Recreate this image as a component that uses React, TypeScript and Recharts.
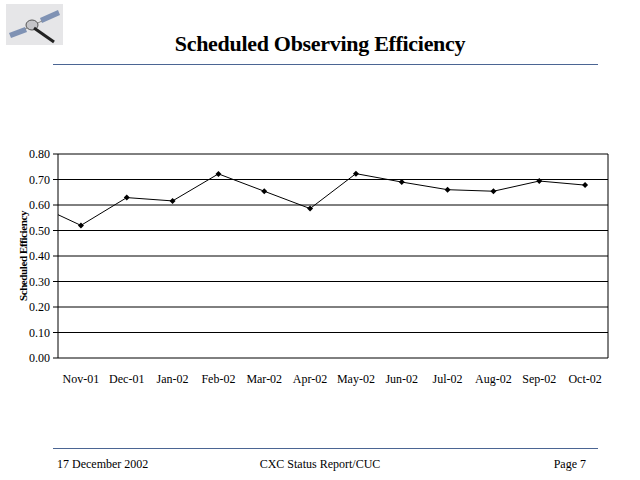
import React from 'react';
import { LineChart, Line, XAxis, YAxis, CartesianGrid, ReferenceLine } from 'recharts';

// month index 0 = Oct-01 (only its line segment is visible, clipped at the left edge)
const months = ['Oct-01', 'Nov-01', 'Dec-01', 'Jan-02', 'Feb-02', 'Mar-02', 'Apr-02', 'May-02', 'Jun-02', 'Jul-02', 'Aug-02', 'Sep-02', 'Oct-02'];
const efficiency = [0.604, 0.52, 0.629, 0.616, 0.722, 0.654, 0.586, 0.723, 0.69, 0.66, 0.654, 0.694, 0.678];
const yTicks = [0, 0.1, 0.2, 0.3, 0.4, 0.5, 0.6, 0.7, 0.8];
const labelTicks = [1, 2, 3, 4, 5, 6, 7, 8, 9, 10, 11, 12];
const boundaryTicks = [0.5, 1.5, 2.5, 3.5, 4.5, 5.5, 6.5, 7.5, 8.5, 9.5, 10.5, 11.5, 12.5];

const data = months.map((m, i) => ({ idx: i, month: m, value: efficiency[i] }));

const serif = '"Liberation Serif", "Times New Roman", serif';
const rule = '#4b6593';

const Diamond = (props: any) => {
  const { cx, cy, payload } = props;
  if (payload.idx < 0.5) return <g />;
  const r = 3;
  return <polygon points={`${cx},${cy - r} ${cx + r},${cy} ${cx},${cy + r} ${cx - r},${cy}`} fill="#000" />;
};

function Satellite() {
  return (
    <svg width={57} height={41} style={{ position: 'absolute', left: 6, top: 4 }}>
      <rect x={0} y={0} width={57} height={41} fill="#e6e6e8" />
      <polygon points="3,29 19,23 21,28 5,34" fill="#7f92b4" />
      <polygon points="34,14 52,6 54,11 36,19" fill="#7f92b4" />
      <line x1={19} y1={25} x2={36} y2={17} stroke="#888" strokeWidth={1} />
      <ellipse cx={26} cy={21} rx={6} ry={5} fill="#c4c4c8" stroke="#555" strokeWidth={1} />
      <line x1={28} y1={24} x2={48} y2={38} stroke="#222" strokeWidth={3} />
    </svg>
  );
}

export default function App() {
  return (
    <div style={{ position: 'absolute', left: 0, top: 0, width: 640, height: 480, background: '#fff', fontFamily: serif }}>
      <Satellite />
      <div style={{ position: 'absolute', left: 0, top: 31, width: 640, textAlign: 'center', fontSize: 22, letterSpacing: -0.3, fontWeight: 'bold', color: '#000' }}>
        Scheduled Observing Efficiency
      </div>
      <div style={{ position: 'absolute', left: 53, top: 64, width: 545, height: 1, background: rule }} />

      <div style={{ position: 'absolute', left: 0, top: 140 }}>
        <LineChart width={640} height={260} data={data} margin={{ top: 14, right: 32, left: 0, bottom: 0 }}>
          <CartesianGrid vertical={false} stroke="#000" strokeWidth={1} yAxisId="y" xAxisId="m" />
          <XAxis
            xAxisId="m"
            dataKey="idx"
            type="number"
            domain={[0.5, 12.5]}
            allowDataOverflow
            ticks={labelTicks}
            tickFormatter={(v: number) => months[v]}
            axisLine={false}
            tickLine={false}
            height={42}
            tickMargin={10}
            tick={{ fill: '#000', fontSize: 12, fontFamily: serif }}
            interval={0}
          />
          <XAxis
            xAxisId="b"
            dataKey="idx"
            type="number"
            domain={[0.5, 12.5]}
            allowDataOverflow
            ticks={boundaryTicks}
            tickFormatter={() => ''}
            axisLine={{ stroke: '#000' }}
            tickLine={{ stroke: '#000' }}
            tickSize={5}
            height={0}
            interval={0}
          />
          <YAxis
            yAxisId="y"
            domain={[0, 0.8]}
            ticks={yTicks}
            tickFormatter={(v: number) => v.toFixed(2)}
            width={58}
            axisLine={{ stroke: '#000' }}
            tickLine={{ stroke: '#000' }}
            tickSize={5}
            tickMargin={3}
            tick={{ fill: '#000', fontSize: 12, fontFamily: serif }}
            interval={0}
            label={{
              value: 'Scheduled Efficiency',
              angle: -90,
              position: 'insideLeft',
              offset: 23,
              style: { textAnchor: 'middle', fontSize: 11, fontWeight: 'bold', letterSpacing: -0.4, fontFamily: serif, fill: '#000' },
            }}
          />
          <ReferenceLine xAxisId="m" yAxisId="y" x={12.5} stroke="#000" />
          <Line
            xAxisId="m"
            yAxisId="y"
            dataKey="value"
            stroke="#000"
            strokeWidth={1}
            dot={<Diamond />}
            activeDot={false}
            isAnimationActive={false}
          />
        </LineChart>
      </div>

      <div style={{ position: 'absolute', left: 53, top: 448, width: 545, height: 1, background: rule }} />
      <div style={{ position: 'absolute', left: 57, top: 457, fontSize: 12, color: '#000' }}>17 December 2002</div>
      <div style={{ position: 'absolute', left: 0, top: 457, width: 640, textAlign: 'center', fontSize: 12, color: '#000' }}>CXC Status Report/CUC</div>
      <div style={{ position: 'absolute', right: 54, top: 457, fontSize: 12, color: '#000' }}>Page 7</div>
    </div>
  );
}
